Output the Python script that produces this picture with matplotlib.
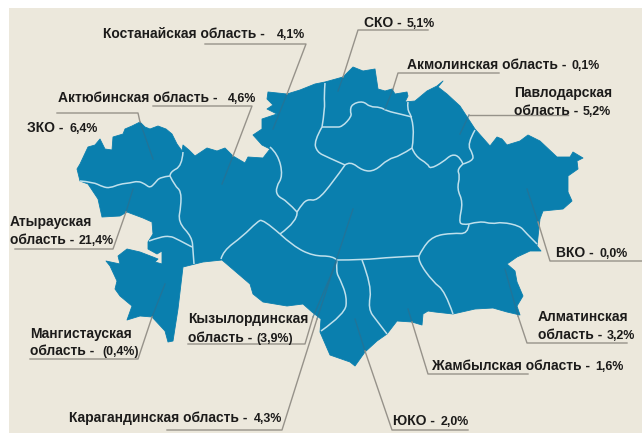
import matplotlib
matplotlib.use("Agg")
import matplotlib.pyplot as plt
from matplotlib.patches import Polygon, Rectangle, PathPatch
from matplotlib.path import Path

plt.rcParams['font.family'] = ['Liberation Sans', 'DejaVu Sans']

W, H = 642, 435
BEIGE = '#ece8dc'
BLUE = '#0a7fae'
BORDER = '#bfe0ec'
LEADER = '#96928a'
FAINT = '#2a7091'
INK = '#1c1b1a'

outline = [
 (77,170),(80,165),(88,148),(95,146),(100,140),(105,150),(112,151),(113,138),(123,135),(125,130),(132,127),
 (140,123),(145,128),(150,130),(158,127),(166,130),(172,135),(177,145),(182,152),(183,146),(189,151),(195,157),
 (207,149),(217,152),(225,149),(233,157),(245,164),(248,158),(263,159),(270,150),(262,146),(253,136),(262,130),
 (262,120),(277,115),(267,110),(273,106),(267,100),(268,93),(287,95),(300,91),(315,85),(325,83),(343,78),(353,68),
 (363,72),(375,70),(378,90),(385,92),(392,90),(395,95),(407,93),(408,97),(405,103),(415,102),(427,92),(437,87),
 (443,82),(438,88),(447,95),(460,107),(475,130),(490,147),(497,138),(502,140),(507,146),(520,142),(528,136),
 (540,142),(557,158),(570,158),(573,153),(583,159),(577,162),(578,170),(568,177),(568,193),(572,202),(563,210),
 (543,212),(540,220),(537,247),(541,252),(530,252),(517,258),(507,265),(515,272),(517,283),(523,297),(517,307),
 (520,316),(507,313),(493,309),(475,310),(453,315),(435,313),(428,312),(423,315),(422,326),(412,323),(397,322),
 (387,335),(377,342),(365,353),(355,367),(350,363),(330,356),(320,333),(321,320),(312,313),(303,305),(287,307),
 (263,303),(253,295),(250,285),(222,261),(203,263),(195,265),(183,268),(178,310),(173,342),(168,343),(165,332),
 (152,318),(140,317),(127,321),(132,307),(120,297),(115,290),(117,282),(110,267),(106,262),(120,265),(118,257),
 (127,250),(140,253),(153,258),(158,260),(155,263),(162,265),(162,252),(157,255),(148,250),(148,243),(153,235),
 (152,223),(143,219),(127,213),(120,217),(102,218),(98,200),(88,185),(80,182),
]

zko_atyrau = [(80,182),(93,183),(103,188),(110,189),(120,185),(130,184),(138,182),(145,185),(150,189),(155,184),(160,178),(170,177)]
zko_aktobe = [(170,177),(170,173),(182,167),(183,153)]
west_aktobe = [(170,177),(175,187),(181,192),(181,207),(178,223),(192,238),(193,252),(194,265)]
atyrau_mangistau = [(149,242),(160,238),(170,237),(177,240),(192,248)]
aktobe_kostanay = [(270,148),(278,155),(283,177),(276,188),(277,197),(287,202),(297,213)]
aktobe_karaganda = [(297,213),(298,222),(280,235)]
aktobe_kyzylorda = [(280,235),(263,220),(257,223),(243,237),(223,252),(221,260)]
kyzylorda_karaganda = [(280,235),(293,247),(313,257),(333,257),(337,261)]
karaganda_south = [(337,261),(362,261),(393,258),(419,257)]
kyzylorda_yuko = [(337,261),(336,273),(340,280),(347,298),(345,315),(321,332)]
yuko_zhambyl = [(362,261),(372,287),(368,310),(377,322),(387,335)]
zhambyl_almaty = [(419,257),(418,262),(433,283),(445,292),(453,315)]
karaganda_almaty = [(419,257),(422,250),(433,237),(453,234),(468,235),(469,225)]
almaty_vko = [(469,225),(480,222),(492,225),(502,223),(520,227),(525,233),(537,245)]
karaganda_vko = [(469,225),(462,226),(459,222),(463,203),(457,190),(460,177),(457,170),(463,165)]
vko_pavlodar = [(463,165),(473,162),(473,155),(467,145),(475,131)]
pavlodar_karaganda = [(463,165),(460,158),(452,155),(443,163),(430,170),(428,165),(415,157),(412,149)]
karaganda_akmola = [(412,149),(400,157),(388,160),(375,172),(363,172),(350,162),(345,166)]
akmola_pavlodar = [(412,149),(414,138),(412,118),(407,110),(408,103)]
sko_akmola = [(412,118),(400,115),(387,112),(380,108),(370,108),(363,102),(352,105),(350,112),(352,117),(342,128),(335,128),(322,128)]
sko_kostanay = [(325,84),(324,97),(325,110),(322,128)]
kostanay_akmola = [(322,128),(314,142),(317,153),(327,158),(345,166)]
kostanay_karaganda = [(345,166),(333,183),(317,202),(307,200),(300,208),(297,213)]

borders = [zko_atyrau, zko_aktobe, west_aktobe, atyrau_mangistau, aktobe_kostanay, aktobe_karaganda,
           aktobe_kyzylorda, kyzylorda_karaganda, karaganda_south, kyzylorda_yuko, yuko_zhambyl,
           zhambyl_almaty, karaganda_almaty, almaty_vko, karaganda_vko, vko_pavlodar, pavlodar_karaganda,
           karaganda_akmola, akmola_pavlodar, sko_akmola, sko_kostanay, kostanay_akmola, kostanay_karaganda]

names = ['Костанайская область -', 'СКО -', 'Акмолинская область -', 'Павлодарская\nобласть -',
         'Актюбинская область -', 'ЗКО -', 'Атырауская\nобласть -', 'Мангистауская\nобласть -',
         'Кызылординская\nобласть -', 'Карагандинская область -', 'ЮКО -', 'Жамбылская область -',
         'Алматинская\nобласть -', 'ВКО -']
values = ['4,1%', '5,1%', '0,1%', '5,2%', '4,6%', '6,4%', '21,4%', '(0,4%)', '(3,9%)', '4,3%', '2,0%', '1,6%', '3,2%', '0,0%']
name_pos = [(103,38),(364,27),(407,69),(514,97),(58,102),(27,132),(10,226),(30,338),(188,323),(69,422),(393,425),(432,370),(538,321),(556,257)]
value_pos = [(277,38),(407,27),(572,69),(583,115),(228,102),(69,132),(79,244),(102,355),(256,342),(254,422),(441,425),(595,370),(607,339),(599,257)]
line_gap = [0,0,0,18,0,0,18,17,19,0,0,0,18,0]

leaders = [
 [(205,45),(306,45),(287,95)], [(428,31),(358,31),(343,78)], [(499,74),(398,74),(393,90)],
 [(568,116),(469,116)], [(153,107),(252,107),(233,157)], [(57,114),(138,114),(140,123)],
 [(15,250),(113,250),(126,213)], [(30,360),(138,360),(152,318)], [(188,345),(305,345),(313,318)],
 [(167,431),(282,431),(317,320)], [(468,431),(392,431),(365,352)], [(528,375),(428,375),(412,323)],
 [(627,344),(527,344),(518,317)], [(642,262),(550,262),(538,223)],
]
faint_runs = [
 [(287,95),(273,130)], [(343,78),(338,92)], [(393,90),(385,110)], [(469,116),(460,135)],
 [(233,157),(222,185)], [(140,123),(153,160)], [(126,213),(133,190)], [(152,318),(165,285)],
 [(313,318),(337,262)], [(317,320),(353,210)], [(365,352),(355,320)], [(412,323),(408,310)],
 [(518,317),(505,270)], [(538,223),(527,190)],
]


def rounded(pts):
    """Polyline through the first and last vertex, with interior corners rounded."""
    verts, codes = [pts[0]], [Path.MOVETO]
    for i in range(1, len(pts) - 1):
        nx = pts[i + 1]
        end = nx if i == len(pts) - 2 else ((pts[i][0] + nx[0]) / 2, (pts[i][1] + nx[1]) / 2)
        verts += [pts[i], end]
        codes += [Path.CURVE3, Path.CURVE3]
    if len(pts) == 2:
        verts.append(pts[1])
        codes.append(Path.LINETO)
    return Path(verts, codes)


fig = plt.figure(figsize=(W/100, H/100), dpi=100, facecolor='white')
ax = fig.add_axes([0, 0, 1, 1])
ax.set_xlim(0, W)
ax.set_ylim(H, 0)
ax.axis('off')

ax.add_patch(Rectangle((9, 9), W-9, H-10, facecolor=BEIGE, edgecolor='none', zorder=0))
ax.add_patch(Polygon(outline, closed=True, facecolor=BLUE, edgecolor=BLUE, lw=0.6, joinstyle='round', zorder=1))

for b in borders:
    ax.add_patch(PathPatch(rounded(b), facecolor='none', edgecolor=BORDER, lw=1.1, zorder=2))
for r in faint_runs:
    xs, ys = zip(*r)
    ax.plot(xs, ys, color=FAINT, lw=1.0, alpha=0.7, zorder=2)
for l in leaders:
    xs, ys = zip(*l)
    ax.plot(xs, ys, color=LEADER, lw=1.0, solid_joinstyle='round', zorder=3)

for name, val, (nx, ny), (vx, vy), gap in zip(names, values, name_pos, value_pos, line_gap):
    for i, p in enumerate(name.split('\n')):
        ax.text(nx, ny + i * gap, p, fontsize=10.0, fontweight='bold', color=INK, ha='left', va='baseline', zorder=4)
    ax.text(vx, vy, val, fontsize=8.9, fontweight='bold', color=INK, ha='left', va='baseline', zorder=4)

fig.savefig('out.png', dpi=100, facecolor='white')
